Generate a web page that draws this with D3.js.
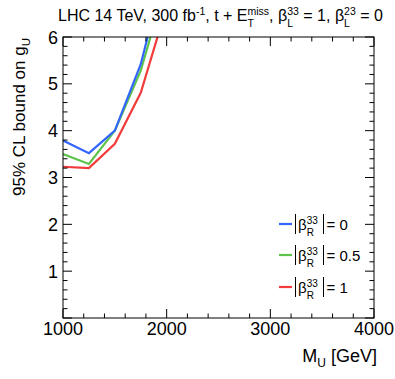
<!DOCTYPE html>
<html>
<head>
<meta charset="utf-8">
<script src="https://cdn.jsdelivr.net/npm/d3@7"></script>
<style>
  body { margin: 0; background: #fff; }
  svg { font-family: "Liberation Sans", Arial, sans-serif; }
</style>
</head>
<body>
<div id="chart"></div>
<script>
// masses (GeV) and bounds on g_U for each |beta_R^33|
let masses = [1000, 1250, 1500, 1750, 2000];
let boundR0 = [3.79, 3.52, 4.0, 5.42, 7.6];
let boundR05 = [3.50, 3.29, 4.0, 5.28, 7.2];
let boundR1 = [3.23, 3.20, 3.72, 4.81, 6.65];
let seriesNames = ['0', '0.5', '1'];
let seriesColors = ['#3366ff', '#5ec34a', '#f23c3c'];
let xTicks = [1000, 2000, 3000, 4000];
let yTicks = [1, 2, 3, 4, 5, 6];

let width = 395, height = 379;
let mLeft = 63, mRight = 374, mTop = 37, mBottom = 318;

let svg = d3.select('#chart').append('svg')
    .attr('width', width)
    .attr('height', height);

let x = d3.scaleLinear().domain([1000, 4000]).range([mLeft, mRight]);
let y = d3.scaleLinear().domain([0, 6]).range([mBottom, mTop]);

svg.append('clipPath').attr('id', 'clip')
  .append('rect')
    .attr('x', mLeft).attr('y', mTop)
    .attr('width', mRight - mLeft).attr('height', mBottom - mTop);

// curves
let allSeries = [boundR0, boundR05, boundR1];
let line = d3.line().x((d, i) => x(masses[i])).y(d => y(d));
allSeries.slice().reverse().forEach((s, k) => {
    let i = allSeries.length - 1 - k;
    svg.append('path')
        .attr('d', line(s))
        .attr('fill', 'none')
        .attr('stroke', seriesColors[i])
        .attr('stroke-width', 2.2)
        .attr('clip-path', 'url(#clip)');
});

// frame
svg.append('rect')
    .attr('x', mLeft).attr('y', mTop)
    .attr('width', mRight - mLeft).attr('height', mBottom - mTop)
    .attr('fill', 'none').attr('stroke', '#000').attr('stroke-width', 1);

// ticks (inside, on all four sides)
let xMinor = d3.range(1000, 4001, 200);
let yMinor = d3.range(0, 6.001, 0.2);
let tickG = svg.append('g').attr('stroke', '#000').attr('stroke-width', 1);
xMinor.forEach(v => {
    let len = (v % 1000 === 0) ? 9 : 4.5;
    tickG.append('line').attr('x1', x(v)).attr('x2', x(v)).attr('y1', mBottom).attr('y2', mBottom - len);
    tickG.append('line').attr('x1', x(v)).attr('x2', x(v)).attr('y1', mTop).attr('y2', mTop + len);
});
yMinor.forEach(v => {
    let major = Math.abs(v - Math.round(v)) < 1e-6;
    let len = major ? 9 : 4.5;
    tickG.append('line').attr('y1', y(v)).attr('y2', y(v)).attr('x1', mLeft).attr('x2', mLeft + len);
    tickG.append('line').attr('y1', y(v)).attr('y2', y(v)).attr('x1', mRight).attr('x2', mRight - len);
});

// tick labels
svg.selectAll('.xl').data(xTicks).enter().append('text')
    .attr('x', d => x(d)).attr('y', mBottom + 17)
    .attr('text-anchor', 'middle').attr('font-size', 18)
    .text(d => d);
svg.selectAll('.yl').data(yTicks).enter().append('text')
    .attr('x', mLeft - 5).attr('y', d => y(d) + 6.5)
    .attr('text-anchor', 'end').attr('font-size', 18)
    .text(d => d);

// superscript + subscript stacked after the current tspan
function supSub(t, sup, sub, size, up, down) {
    let a = t.append('tspan').attr('font-size', size).attr('dy', -up).text(sup);
    let la = a.node().getComputedTextLength();
    let b = t.append('tspan').attr('font-size', size).attr('dx', -la).attr('dy', up + down).text(sub);
    let lb = b.node().getComputedTextLength();
    return { dx: Math.max(0, la - lb), dy: -down };
}

// axis titles
let xt = svg.append('text').attr('x', 377).attr('y', 362)
    .attr('text-anchor', 'end').attr('font-size', 18);
xt.append('tspan').text('M');
xt.append('tspan').attr('font-size', 12).attr('dy', 5).text('U');
xt.append('tspan').attr('dy', -5).text(' [GeV]');

let yt = svg.append('text')
    .attr('transform', 'translate(25,38) rotate(-90)')
    .attr('text-anchor', 'end').attr('font-size', 17);
yt.append('tspan').text('95% CL bound on g');
yt.append('tspan').attr('font-size', 11.5).attr('dy', 5).text('U');

// title
let tt = svg.append('text').attr('x', 58).attr('y', 21).attr('font-size', 16);
tt.append('tspan').text('LHC 14 TeV, 300 fb');
tt.append('tspan').attr('font-size', 10.5).attr('dy', -6).text('-1');
tt.append('tspan').attr('dy', 6).text(', t + E');
let o = supSub(tt, 'miss', 'T', 10.5, 6, 6);
tt.append('tspan').attr('dx', o.dx).attr('dy', o.dy).text(', β');
o = supSub(tt, '33', 'L', 10.5, 6, 6);
tt.append('tspan').attr('dx', o.dx).attr('dy', o.dy).text(' = 1, β');
o = supSub(tt, '23', 'L', 10.5, 6, 6);
tt.append('tspan').attr('dx', o.dx).attr('dy', o.dy).text(' = 0');

// legend
let legY = [224, 255, 287];
seriesNames.forEach((name, i) => {
    let g = svg.append('g').attr('transform', `translate(279,${legY[i]})`);
    g.append('line').attr('x1', 0).attr('x2', 13).attr('y1', 0).attr('y2', 0)
        .attr('stroke', seriesColors[i]).attr('stroke-width', 2.2);
    g.append('line').attr('x1', 16.5).attr('x2', 16.5).attr('y1', -10).attr('y2', 10)
        .attr('stroke', '#000').attr('stroke-width', 1);
    let t = g.append('text').attr('x', 19).attr('y', 6).attr('font-size', 15);
    t.append('tspan').text('β');
    supSub(t, '33', 'R', 10, 6, 6);
    let bx = 44.5;
    g.append('line').attr('x1', bx).attr('x2', bx).attr('y1', -10).attr('y2', 10)
        .attr('stroke', '#000').attr('stroke-width', 1);
    g.append('text').attr('x', bx + 3).attr('y', 6).attr('font-size', 15).text('= ' + name);
});
</script>
</body>
</html>
